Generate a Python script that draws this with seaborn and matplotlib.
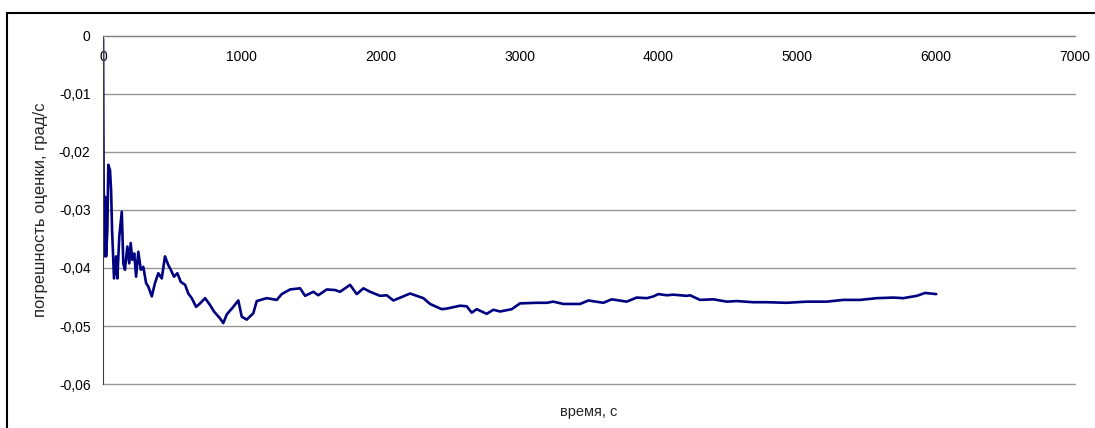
import matplotlib
matplotlib.use("Agg")
import matplotlib.pyplot as plt
from matplotlib.lines import Line2D
from matplotlib.ticker import FuncFormatter
import numpy as np
import pandas as pd
import seaborn as sns

# время, с
time_s = [0, 2, 7, 14, 22, 31, 38, 50, 58, 65, 79, 94, 103, 117, 135, 146, 158,
          175, 189, 199, 211, 225, 238, 254, 272, 290, 310, 326, 351, 374, 398,
          423, 446, 470, 488, 511, 535, 560, 591, 614, 639, 670, 699, 735, 771,
          799, 843, 866, 891, 938, 974, 999, 1035, 1082, 1107, 1179, 1251, 1287,
          1347, 1419, 1455, 1515, 1550, 1611, 1671, 1707, 1779, 1827, 1875, 1923,
          1995, 2043, 2091, 2211, 2307, 2355, 2439, 2475, 2571, 2619, 2655, 2691,
          2763, 2811, 2859, 2943, 3003, 3123, 3195, 3243, 3315, 3435, 3495, 3603,
          3663, 3771, 3843, 3916, 3963, 3999, 4060, 4107, 4204, 4227, 4299, 4395,
          4492, 4564, 4683, 4780, 4924, 5068, 5212, 5331, 5452, 5572, 5691, 5763,
          5860, 5920, 6000]

# погрешность оценки, град/с
error = [-0.0005, -0.0145, -0.0380, -0.0277, -0.0380, -0.0334, -0.0222, -0.0231,
         -0.0266, -0.0334, -0.0418, -0.0380, -0.0418, -0.0346, -0.0303, -0.0392,
         -0.0403, -0.0363, -0.0392, -0.0357, -0.0386, -0.0375, -0.0415, -0.0372,
         -0.0403, -0.0398, -0.0426, -0.0432, -0.0449, -0.0426, -0.0409, -0.0418,
         -0.0380, -0.0395, -0.0403, -0.0415, -0.0409, -0.0424, -0.0429, -0.0444,
         -0.0452, -0.0467, -0.0461, -0.0452, -0.0464, -0.0475, -0.0487, -0.0495,
         -0.0480, -0.0467, -0.0456, -0.0484, -0.0489, -0.0478, -0.0457, -0.0452,
         -0.0455, -0.0445, -0.0437, -0.0435, -0.0448, -0.0441, -0.0447, -0.0437,
         -0.0438, -0.0441, -0.0429, -0.0445, -0.0435, -0.0441, -0.0448, -0.0447,
         -0.0456, -0.0444, -0.0452, -0.0462, -0.0471, -0.0470, -0.0465, -0.0466,
         -0.0477, -0.0471, -0.0479, -0.0472, -0.0475, -0.0471, -0.0461, -0.0460,
         -0.0460, -0.0458, -0.0462, -0.0462, -0.0456, -0.0460, -0.0454, -0.0458,
         -0.0451, -0.0452, -0.0449, -0.0445, -0.0447, -0.0446, -0.0448, -0.0447,
         -0.0455, -0.0454, -0.0458, -0.0457, -0.0459, -0.0459, -0.0460, -0.0458,
         -0.0458, -0.0455, -0.0455, -0.0452, -0.0451, -0.0452, -0.0448, -0.0443,
         -0.0445]

x_ticks = [0, 1000, 2000, 3000, 4000, 5000, 6000, 7000]
y_ticks = [0, -0.01, -0.02, -0.03, -0.04, -0.05, -0.06]

df = pd.DataFrame({"t": time_s, "err": error})

sns.set_style("white")
plt.rcParams["font.family"] = ["Liberation Sans", "DejaVu Sans"]

fig = plt.figure(figsize=(10.95, 4.28), dpi=100)
ax = fig.add_axes([0.0941, 0.1028, 0.8877, 0.8131])

sns.lineplot(data=df, x="t", y="err", color="#000080", linewidth=1.9, ax=ax)

ax.set_xlim(0, 7000)
ax.set_ylim(-0.06, 0)
ax.set_xticks(x_ticks)
ax.set_yticks(y_ticks)
ax.xaxis.set_major_formatter(FuncFormatter(lambda v, p: f"{int(v)}"))
ax.yaxis.set_major_formatter(
    FuncFormatter(lambda v, p: "0" if abs(v) < 1e-9 else f"{v:.2f}".replace(".", ",")))

ax.grid(axis="y", color="#959595", linewidth=1)
for gl in ax.get_ygridlines():
    gl.set_clip_on(False)
ax.spines["top"].set_visible(False)
ax.spines["right"].set_visible(False)
ax.spines["bottom"].set_position(("data", 0))
ax.spines["bottom"].set_color("#808080")
ax.spines["left"].set_color("#404040")

ax.tick_params(axis="x", direction="out", length=3, pad=7, labelsize=10, colors="black")
ax.tick_params(axis="y", direction="out", length=3, pad=6, labelsize=10, colors="black")
ax.tick_params(axis="x", color="#808080")
ax.tick_params(axis="y", color="#404040")

ax.set_xlabel("время, с", fontsize=10.5)
ax.set_ylabel("погрешность оценки, град/с", fontsize=12)
ax.xaxis.set_label_coords(0.5, -0.06)
ax.yaxis.set_label_coords(-0.057, 0.5)

# chart frame (cut off at right and bottom)
fig.add_artist(Line2D([7 / 1095, 1.0], [1 - 13 / 428, 1 - 13 / 428],
                      transform=fig.transFigure, color="black", linewidth=1.5))
fig.add_artist(Line2D([7 / 1095, 7 / 1095], [0, 1 - 13 / 428],
                      transform=fig.transFigure, color="black", linewidth=1.5))

fig.savefig("out.png", dpi=100)
